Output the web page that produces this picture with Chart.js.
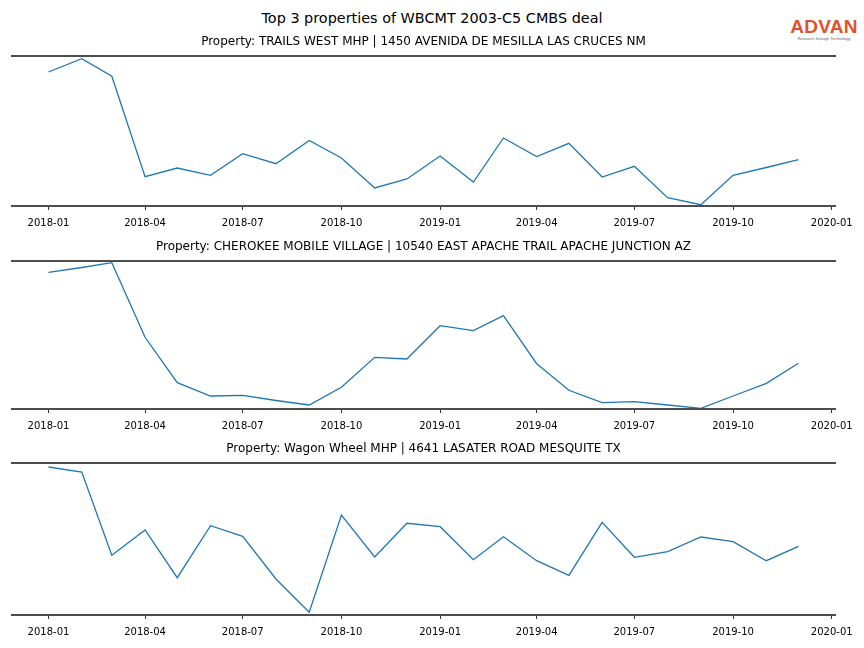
<!DOCTYPE html>
<html>
<head>
<meta charset="utf-8">
<script src="https://cdn.jsdelivr.net/npm/chart.js@4.4.1/dist/chart.umd.min.js"></script>
<style>
  html, body { margin: 0; padding: 0; background: #fff; }
  #wrap { position: relative; width: 864px; height: 648px; overflow: hidden; font-family: "DejaVu Sans", sans-serif; }
  .panel { position: absolute; left: 0; width: 864px; }
  #suptitle { position: absolute; left: 0; width: 864px; top: 10px; text-align: center; font-size: 14.4px; color: #000; }
  #logo { position: absolute; left: 789px; top: 17px; width: 70px; text-align: center; }
  #logo .big { font-family: "Liberation Sans", Arial, sans-serif; font-weight: bold; font-size: 19px; color: #e0522c; letter-spacing: 0.3px; line-height: 19px; }
  #logo .small { font-family: "Liberation Sans", Arial, sans-serif; font-size: 4px; color: #666; line-height: 5px; white-space: nowrap; }
</style>
</head>
<body>
<div id="wrap">
  <div id="suptitle">Top 3 properties of WBCMT 2003-C5 CMBS deal</div>
  <div id="logo"><div class="big">ADVAN</div><div class="small">Research through Technology</div></div>
  <canvas id="c1" class="panel" width="864" height="200" style="top:32px;height:200px"></canvas>
  <canvas id="c2" class="panel" width="864" height="198" style="top:237px;height:198px"></canvas>
  <canvas id="c3" class="panel" width="864" height="202" style="top:439px;height:202px"></canvas>
</div>
<script>
// ---- data ----
const months = ['2018-01','2018-02','2018-03','2018-04','2018-05','2018-06','2018-07','2018-08','2018-09','2018-10','2018-11','2018-12',
                '2019-01','2019-02','2019-03','2019-04','2019-05','2019-06','2019-07','2019-08','2019-09','2019-10','2019-11','2019-12'];
const tickLabels = ['2018-01','2018-04','2018-07','2018-10','2019-01','2019-04','2019-07','2019-10','2020-01'];
const titles = [
  'Property: TRAILS WEST MHP | 1450 AVENIDA DE MESILLA LAS CRUCES NM',
  'Property: CHEROKEE MOBILE VILLAGE | 10540 EAST APACHE TRAIL APACHE JUNCTION AZ',
  'Property: Wagon Wheel MHP | 4641 LASATER ROAD MESQUITE TX'
];
const trailsWest = [134, 147.3, 129.7, 29.3, 38, 30.7, 52.3, 42.3, 65.5, 48, 18, 27,
                    50, 24, 68, 49.5, 62.7, 29, 39.7, 8.3, 1.3, 30.7, 38.5, 46.3];
const cherokee   = [136.7, 141.5, 146.3, 71.7, 26.3, 13, 13.7, 8.5, 4, 21.7, 51.7, 50,
                    83.3, 78.3, 93.3, 45.3, 18.7, 6.3, 7.3, 4, 0.7, 13, 25.7, 45.7];
const wagonWheel = [148, 143, 59.7, 85, 37.3, 89.3, 78.7, 36, 2.7, 100, 58, 91.7,
                    88.3, 55.3, 78.3, 54.3, 39.7, 92.7, 57.7, 63.3, 78, 73.3, 54.3, 68.7];
const series = [trailsWest, cherokee, wagonWheel];
const yMax = [150, 148, 152];

// ---- helpers ----
function dayOf(ym) {
  const [y, m] = ym.split('-').map(Number);
  return (Date.UTC(y, m - 1, 1) - Date.UTC(2018, 0, 1)) / 864e5;
}
const xs = months.map(dayOf);
const xSpan = xs[xs.length - 1] - xs[0];
const xMin = xs[0] - 0.05 * xSpan, xMax = xs[xs.length - 1] + 0.05 * xSpan;
const tickMap = {};
tickLabels.forEach(t => { tickMap[dayOf(t)] = t; });

const spines = {
  id: 'spines',
  afterDatasetsDraw(chart) {
    const a = chart.chartArea, ctx = chart.ctx;
    ctx.save();
    ctx.strokeStyle = '#4d4d4d';
    ctx.lineWidth = 1.8;
    ctx.beginPath();
    ctx.moveTo(a.left, a.top); ctx.lineTo(a.right, a.top);
    ctx.moveTo(a.left, a.bottom); ctx.lineTo(a.right, a.bottom);
    ctx.stroke();
    ctx.restore();
  }
};

Chart.defaults.font.family = '"DejaVu Sans", sans-serif';
Chart.defaults.color = '#000';
Chart.defaults.animation = false;

['c1','c2','c3'].forEach((id, i) => {
  new Chart(document.getElementById(id), {
    type: 'line',
    data: {
      datasets: [{
        data: xs.map((x, j) => ({x: x, y: series[i][j]})),
        borderColor: '#1f77b4',
        borderWidth: 1.3,
        pointRadius: 0,
        tension: 0,
        fill: false
      }]
    },
    options: {
      responsive: false,
      maintainAspectRatio: false,
      layout: { padding: { left: 11, right: 28, top: 0, bottom: 0 } },
      plugins: {
        legend: { display: false },
        tooltip: { enabled: false },
        title: {
          display: true,
          text: titles[i],
          font: { size: 12, weight: 'normal', lineHeight: 1.2 },
          color: '#000',
          padding: { top: 3, bottom: 6.6 }
        }
      },
      scales: {
        x: {
          type: 'linear',
          min: xMin,
          max: xMax,
          afterBuildTicks: s => { s.ticks = tickLabels.map(t => ({ value: dayOf(t) })); },
          afterFit: s => { s.height = 26; },
          ticks: {
            autoSkip: false,
            maxRotation: 0,
            padding: 7,
            font: { size: 10 },
            color: '#000',
            callback: v => tickMap[v] || ''
          },
          grid: { display: true, drawOnChartArea: false, drawTicks: true, tickLength: 4, tickWidth: 1, tickColor: '#333' },
          border: { display: false }
        },
        y: {
          display: false,
          min: 0,
          max: yMax[i]
        }
      }
    },
    plugins: [spines]
  });
});
</script>
</body>
</html>
